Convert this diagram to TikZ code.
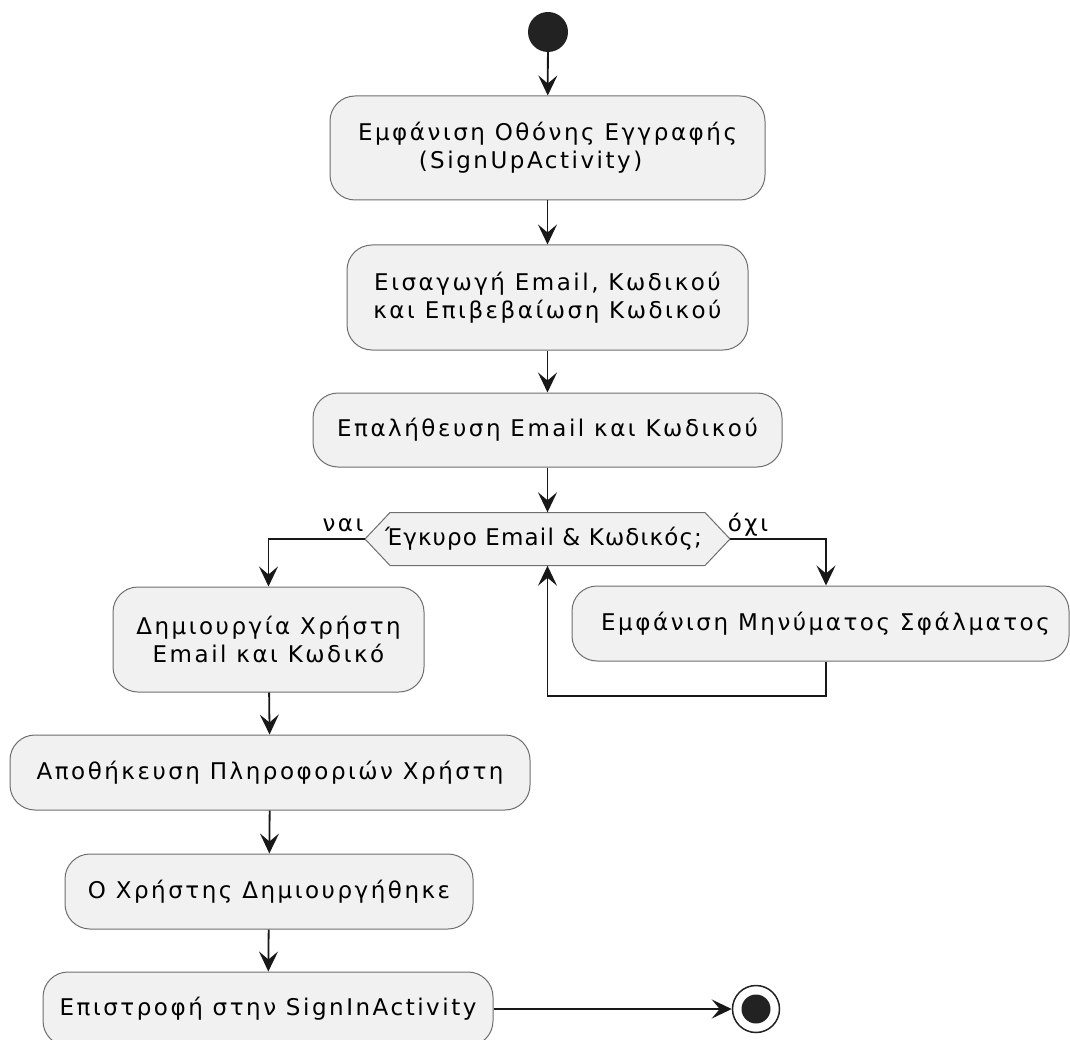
\documentclass[tikz,border=0pt]{standalone}
\usepackage{fontspec}
\setmainfont{DejaVu Sans}[LetterSpace=11]
\newfontfamily\tightfont{DejaVu Sans}
\newfontfamily\guardfont{DejaVu Sans}[LetterSpace=5]
\usetikzlibrary{arrows.meta,calc}

\definecolor{ink}{HTML}{222222}
\definecolor{edgeline}{HTML}{181818}
\definecolor{boxfill}{HTML}{F1F1F1}
\definecolor{boxline}{HTML}{6E6E6E}

\tikzset{
  act/.style={draw=boxline, fill=boxfill, line width=1pt, rounded corners=25pt,
    align=center, inner sep=0pt, font=\fontsize{23}{28}\selectfont},
  flow/.style={draw=edgeline, line width=1.8pt,
    -{Stealth[length=20pt,width=19pt,inset=8pt]}},
  guard/.style={font=\fontsize{23}{28}\selectfont, inner sep=0pt},
}

\begin{document}
\begin{tikzpicture}[x=1pt,y=-1pt]
\useasboundingbox (0,0) rectangle (1070,1040);

% start and activities
\node[circle, fill=ink, minimum size=40pt, inner sep=0pt] (start) at (548,32) {};

\node[act, minimum width=435pt, minimum height=104pt] (show) at (547.5,148)
  {Εμφάνιση Οθόνης Εγγραφής\\(SignUpActivity)\hspace*{34pt}};
\node[act, minimum width=401pt, minimum height=105pt] (input) at (547.5,297.5)
  {Εισαγωγή Email, Κωδικού\\και Επιβεβαίωση Κωδικού};
\node[act, minimum width=469pt, minimum height=74pt] (check) at (547.5,430)
  {Επαλήθευση Email και Κωδικού};

% decision
\coordinate (hexL) at (365,539);
\coordinate (hexR) at (730,539);
\path[draw=boxline, fill=boxfill, line width=1pt]
  (hexL) -- (390,512.5) -- (705,512.5) -- (hexR) -- (705,565.5) -- (390,565.5) -- cycle;
\node[guard, minimum width=365pt, minimum height=53pt] (dec) at (547.5,539)
  {{\tightfont Έ}\kern1pt{\guardfont γκυρο Email \& Κωδικός;}\hspace*{8pt}};
\node[guard] (yes) at (343,525) {ναι};
\node[guard] (no) at (748,525) {όχι};

\node[act, minimum width=311pt, minimum height=105pt] (create) at (268.5,639.5)
  {Δημιουργία Χρήστη\\Email και Κωδικό};
\node[act, minimum width=497pt, minimum height=75pt] (error) at (820.5,623.5)
  {\hspace*{10pt}Εμφάνιση Μηνύματος Σφάλματος};
\node[act, minimum width=520pt, minimum height=75pt] (store) at (270,772.5)
  {Αποθήκευση Πληροφοριών Χρήστη};
\node[act, minimum width=408pt, minimum height=75pt] (done) at (269,891.5)
  {Ο Χρήστης Δημιουργήθηκε};
\node[act, minimum width=450pt, minimum height=74pt] (back) at (268,1009)
  {Επιστροφή στην SignInActivity};

% end
\node[circle, draw=ink, line width=1.5pt, fill=white, minimum size=47pt, inner sep=0pt] (stop) at (756,1009) {};
\node[circle, fill=ink, minimum size=29pt, inner sep=0pt] (stopdot) at (stop) {};

% connectors
\draw[flow] (start) -- (show);
\draw[flow] (show) -- (input);
\draw[flow] (input) -- (check);
\draw[flow] (check) -- (dec);
\draw[flow] (dec.west) -| (create.north);
\draw[flow] (dec.east) -| ($(error.north)+(5.5,0)$);
\coordinate (loopturn) at (547.5,696);
\draw[flow] ($(error.south)+(5.5,0)$) |- (loopturn) -- (dec.south);
\draw[flow] (create) -- (store);
\draw[flow] (store) -- (done);
\draw[flow] (done) -- (back);
\draw[flow] (back) -- (stop);
\end{tikzpicture}
\end{document}
